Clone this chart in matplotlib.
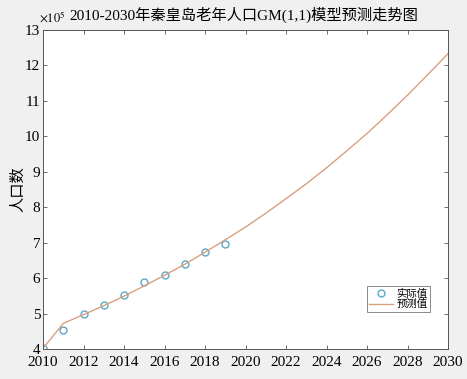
import matplotlib
matplotlib.use("Agg")
import matplotlib.pyplot as plt

years_actual = [2010, 2011, 2012, 2013, 2014, 2015, 2016, 2017, 2018, 2019]
actual = [4.02, 4.54, 4.98, 5.25, 5.53, 5.88, 6.08, 6.41, 6.73, 6.95]
years_pred = list(range(2010, 2031))
pred = [4.02, 4.72, 4.97, 5.22, 5.49, 5.78, 6.08, 6.39, 6.73, 7.08, 7.44,
        7.83, 8.24, 8.66, 9.11, 9.59, 10.08, 10.61, 11.16, 11.74, 12.33]
xticks = list(range(2010, 2031, 2))
yticks = list(range(4, 14))

fam = ['Liberation Serif', 'Noto Sans CJK SC']
plt.rcParams['font.family'] = fam
plt.rcParams['mathtext.fontset'] = 'stix'

fig = plt.figure(figsize=(4.67, 3.79), dpi=100, facecolor='#f0f0f0')
ax = fig.add_axes([43/467, 1-349/379, (448-43)/467, (349-30)/379])
ax.set_facecolor('white')

ax.plot(years_actual, actual, linestyle='none', marker='o', markersize=5,
        markerfacecolor='none', markeredgecolor='#5da7c9', markeredgewidth=1.0,
        label='实际值')
ax.plot(years_pred, pred, color='#d9a07f', linewidth=1.0, label='预测值')

ax.set_xlim(2010, 2030)
ax.set_ylim(4, 13)
ax.set_xticks(xticks)
ax.set_yticks(yticks)
ax.tick_params(direction='in', length=3, width=0.6, colors='#555555',
               labelcolor='black', labelsize=11, top=True, right=True, pad=2)
ax.tick_params(axis='x', pad=5)
for s in ax.spines.values():
    s.set_color('#555555')
    s.set_linewidth(0.7)

fig.text(244/467, 1-15/379, '2010-2030年秦皇岛老年人口GM(1,1)模型预测走势图',
         ha='center', va='center', fontsize=11, family=fam)
fig.text(39/467, 1-18/379, r'$\times10^{5}$', ha='left', va='center',
         fontsize=9)
ax.set_ylabel('人口数', fontsize=11)
ax.yaxis.set_label_coords((25-43)/405, 0.5)

leg = ax.legend(loc='lower right', bbox_to_anchor=((430-43)/405, (349-312)/319),
                fontsize=7.5, frameon=True, fancybox=False, edgecolor='#555555',
                borderpad=0.25, handlelength=2.3, handletextpad=0.3,
                labelspacing=0.05, borderaxespad=0)
leg.get_frame().set_linewidth(0.6)

fig.savefig('out.png', dpi=100, facecolor=fig.get_facecolor())
